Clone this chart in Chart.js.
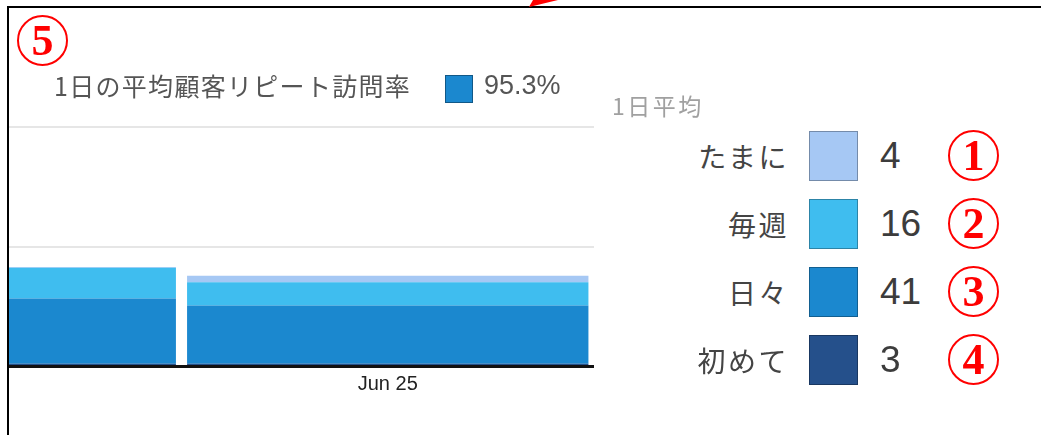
<!DOCTYPE html>
<html>
<head>
<meta charset="utf-8">
<script src="https://cdn.jsdelivr.net/npm/chart.js@4"></script>
<style>
body { margin: 0; width: 1041px; height: 435px; position: relative; overflow: hidden; background: #fff; font-family: "Noto Sans CJK JP", sans-serif; }
#frame { position: absolute; left: 7px; top: 6px; right: -4px; bottom: -4px; border-top: 2px solid #000; border-left: 2px solid #000; z-index: 5; }
#arrow { position: absolute; left: 0; top: 0; z-index: 6; }
#plotClip { position: absolute; left: 9px; top: 0; width: 585px; height: 435px; overflow: hidden; }
#plotBox { position: absolute; left: -240px; top: 0; width: 825px; height: 435px; }
#title { position: absolute; left: 54px; top: 68px; font-size: 25px; letter-spacing: 1.3px; color: #555; line-height: 34px; }
#rateBox { position: absolute; left: 445px; top: 75px; width: 26px; height: 26px; border: 1px solid rgba(0,0,0,0.35); }
#rate { position: absolute; left: 484px; top: 68px; font-family: "Liberation Sans", Arial, sans-serif; font-size: 27px; color: #555; line-height: 34px; }
#avgTitle { position: absolute; left: 612px; top: 90px; font-size: 23px; color: #a0a0a0; line-height: 30px; letter-spacing: 2.5px; }
.row { position: absolute; left: 600px; width: 441px; height: 50px; }
.row .lab { position: absolute; right: 252px; top: 0; line-height: 50px; font-size: 28px; letter-spacing: 2.5px; color: #444; white-space: nowrap; }
.row .sw { position: absolute; left: 209px; top: 0; width: 47px; height: 48px; border: 1px solid rgba(0,0,0,0.3); }
.row .num { position: absolute; left: 280px; top: 0; line-height: 50px; font-family: "Liberation Sans", Arial, sans-serif; font-size: 37px; color: #3c3c3c; }
.circ { position: absolute; width: 47px; height: 47px; border: 2px solid #f00; border-radius: 50%; color: #f00; font-family: "Liberation Serif", "DejaVu Serif", serif; font-weight: bold; font-size: 44px; line-height: 48px; text-align: center; z-index: 7; }
</style>
</head>
<body>
<svg id="arrow" width="1041" height="20"><polygon points="529,7 533,0 558,0" fill="#f00"/></svg>
<div id="frame"></div>
<div id="plotClip"><div id="plotBox"><canvas id="repeatChart"></canvas></div></div>
<div id="title"></div>
<div id="rateBox"></div>
<div id="rate"></div>
<div id="avgTitle"></div>
<div id="legendRows"></div>
<script>
// days on the x axis (the first one is cut off by the frame)
const days = ['Jun 24', 'Jun 25'];

// stacked series, bottom to top
const seriesNames = ['初めて', '日々', '毎週', 'たまに'];
const seriesColors = ['#25508b', '#1b88cf', '#3fbdef', '#a6c8f4'];
const firstTime = [1.5, 1.5];
const daily = [43.7, 39];
const weekly = [20.5, 15.5];
const occasional = [0.5, 4.4];

// daily averages in the side panel, same order as seriesNames
const dailyAvg = [3, 41, 16, 4];
const yTicks = [0, 80, 160];

const chartTitle = '1日の平均顧客リピート訪問率';
const repeatRate = '95.3%';
const avgTitle = '1日平均';
const noteMarks = ['①', '②', '③', '④', '⑤'];

// header text
document.getElementById('title').textContent = chartTitle;
document.getElementById('rate').textContent = repeatRate;
document.getElementById('rateBox').style.background = seriesColors[1];
document.getElementById('avgTitle').textContent = avgTitle;

// red circled markers
function addMark(text, cx, cy) {
    const el = document.createElement('div');
    el.className = 'circ';
    el.textContent = text.normalize('NFKC');
    el.style.left = (cx - 25) + 'px';
    el.style.top = (cy - 25) + 'px';
    document.body.appendChild(el);
}
addMark(noteMarks[4], 42, 40);

// side panel, top row is the top of the stack
const rows = document.getElementById('legendRows');
for (let i = seriesNames.length - 1, r = 0; i >= 0; i--, r++) {
    const row = document.createElement('div');
    row.className = 'row';
    row.style.top = (131 + r * 68) + 'px';
    row.innerHTML = '<span class="lab"></span><span class="sw"></span><span class="num"></span>';
    row.querySelector('.lab').textContent = seriesNames[i];
    row.querySelector('.sw').style.background = seriesColors[i];
    row.querySelector('.num').textContent = dailyAvg[i];
    rows.appendChild(row);
    addMark(noteMarks[r], 973, 155 + r * 68);
}

const seriesData = [firstTime, daily, weekly, occasional];
const ctx = document.getElementById('repeatChart').getContext('2d');
const repeatChart = new Chart(ctx, {
    type: 'bar',
    data: {
        labels: days,
        datasets: seriesNames.map((name, i) => ({
            label: name,
            data: seriesData[i],
            backgroundColor: seriesColors[i],
            borderWidth: 0,
            categoryPercentage: 1,
            barPercentage: 0.973
        }))
    },
    options: {
        responsive: true,
        maintainAspectRatio: false,
        animation: false,
        layout: { padding: { top: 127, bottom: 33, left: 0, right: 0 } },
        plugins: { legend: { display: false }, tooltip: { enabled: false } },
        scales: {
            x: {
                stacked: true,
                grid: { display: false, drawTicks: false },
                border: { display: true, color: '#111', width: 3 },
                ticks: { padding: 6, color: '#222', font: { family: 'Liberation Sans, Arial, sans-serif', size: 20 } }
            },
            y: {
                stacked: true,
                min: 0,
                max: 160,
                afterBuildTicks: scale => { scale.ticks = yTicks.map(v => ({ value: v })); },
                ticks: { display: false },
                border: { display: false },
                grid: {
                    drawTicks: false,
                    lineWidth: 2,
                    color: c => c.tick && c.tick.value === 0 ? 'rgba(0,0,0,0)' : '#e6e6e6'
                }
            }
        }
    }
});
</script>
</body>
</html>
